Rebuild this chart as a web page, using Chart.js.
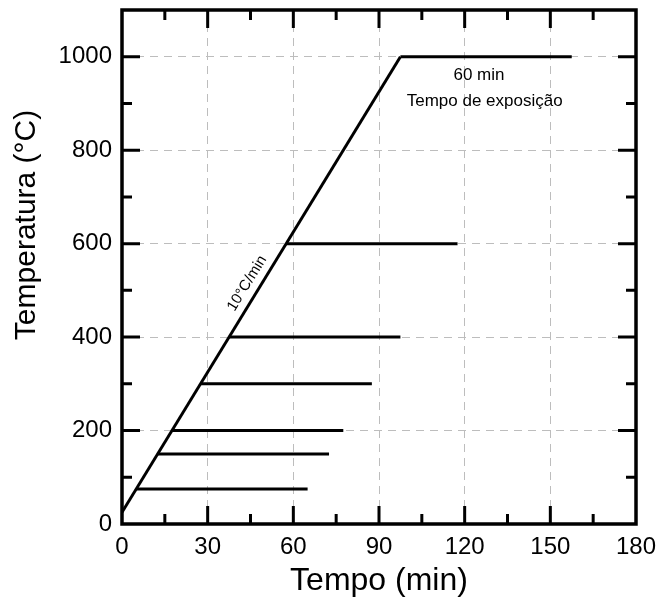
<!DOCTYPE html>
<html>
<head>
<meta charset="utf-8">
<script src="https://cdn.jsdelivr.net/npm/chart.js@4/dist/chart.umd.min.js"></script>
<style>
  html, body { margin: 0; padding: 0; background: #fff; }
  #wrap { width: 660px; height: 602px; }
</style>
</head>
<body>
<div id="wrap"><canvas id="grafico"></canvas></div>
<script>
// rampa de aquecimento 10°C/min
const rampaTempo = [0, 97.5]
const rampaTemp = [25, 1000]

// patamares (temperatura, inicio, fim)
const patamares = [75, 150, 200, 300, 400, 600, 1000]
const inicio = [5, 12.5, 17.5, 27.5, 37.5, 57.5, 97.5]
const fim = [65, 72.5, 77.5, 87.5, 97.5, 117.5, 157.5]

const xTicks = [0, 30, 60, 90, 120, 150, 180]
const yTicks = [0, 200, 400, 600, 800, 1000]

const fonte = '"Liberation Sans", Arial, sans-serif'

const datasets = [{
  data: rampaTempo.map((t, i) => ({ x: t, y: rampaTemp[i] })),
  borderColor: '#000',
  borderWidth: 3,
  pointRadius: 0,
  showLine: true
}]
patamares.forEach((temp, i) => {
  datasets.push({
    data: [{ x: inicio[i], y: temp }, { x: fim[i], y: temp }],
    borderColor: '#000',
    borderWidth: 3,
    pointRadius: 0,
    showLine: true
  })
})

// ticks para dentro + moldura + textos
const moldura = {
  id: 'moldura',
  afterDatasetsDraw(chart) {
    const { ctx, chartArea: a, scales: { x, y } } = chart
    ctx.save()
    ctx.strokeStyle = '#000'
    ctx.lineWidth = 3
    ctx.lineCap = 'butt'
    for (let v = 15; v < 180; v += 15) {
      const px = x.getPixelForValue(v)
      const len = v % 30 === 0 ? 18 : 10
      ctx.beginPath()
      ctx.moveTo(px, a.bottom); ctx.lineTo(px, a.bottom - len)
      ctx.moveTo(px, a.top); ctx.lineTo(px, a.top + len)
      ctx.stroke()
    }
    for (let v = 100; v < 1100; v += 100) {
      const py = y.getPixelForValue(v)
      const len = v % 200 === 0 ? 18 : 10
      ctx.beginPath()
      ctx.moveTo(a.left, py); ctx.lineTo(a.left + len, py)
      ctx.moveTo(a.right, py); ctx.lineTo(a.right - len, py)
      ctx.stroke()
    }
    ctx.lineWidth = 3.5
    ctx.strokeRect(a.left, a.top, a.right - a.left, a.bottom - a.top)

    ctx.fillStyle = '#000'
    ctx.textAlign = 'center'
    ctx.textBaseline = 'middle'
    ctx.font = '17px ' + fonte
    ctx.fillText('60 min', x.getPixelForValue(125), y.getPixelForValue(960))
    ctx.fillText('Tempo de exposição', x.getPixelForValue(127), y.getPixelForValue(905))

    // titulo do eixo y (deslocado para cima como no original)
    ctx.save()
    ctx.translate(27, y.getPixelForValue(640))
    ctx.rotate(-Math.PI / 2)
    ctx.font = '30px ' + fonte
    ctx.fillText('Temperatura (°C)', 0, 0)
    ctx.restore()

    // rotulo da rampa
    const p1x = x.getPixelForValue(0), p1y = y.getPixelForValue(25)
    const p2x = x.getPixelForValue(97.5), p2y = y.getPixelForValue(1000)
    const ang = Math.atan2(p2y - p1y, p2x - p1x)
    ctx.translate(x.getPixelForValue(43.8), y.getPixelForValue(515))
    ctx.rotate(ang)
    ctx.font = '15px ' + fonte
    ctx.fillText('10°C/min', 0, 0)
    ctx.restore()
  }
}

new Chart(document.getElementById('grafico'), {
  type: 'scatter',
  data: { datasets },
  options: {
    responsive: true,
    maintainAspectRatio: false,
    animation: false,
    layout: { padding: { left: 0, right: 24, top: 10, bottom: 0 } },
    plugins: { legend: { display: false }, tooltip: { enabled: false } },
    scales: {
      x: {
        type: 'linear',
        min: 0,
        max: 180,
        afterFit: (s) => { s.height = 78; s.paddingLeft = 0; s.paddingRight = 0 },
        afterBuildTicks: (s) => { s.ticks = xTicks.map(v => ({ value: v })) },
        ticks: { color: '#000', font: { family: fonte, size: 24 }, padding: 9, maxRotation: 0, callback: (v) => String(v) },
        grid: {
          drawTicks: false,
          color: (c) => (c.tick && (c.tick.value === 0 || c.tick.value === 180)) ? 'rgba(0,0,0,0)' : '#bdbdbd',
          lineWidth: 1
        },
        border: { display: false, dash: [8, 6] },
        title: { display: true, text: 'Tempo (min)', color: '#000', font: { family: fonte, size: 32 }, padding: { top: 0, bottom: 2 } }
      },
      y: {
        type: 'linear',
        min: 0,
        max: 1100,
        afterFit: (s) => { s.width = 122; s.paddingTop = 0; s.paddingBottom = 0 },
        afterBuildTicks: (s) => { s.ticks = yTicks.map(v => ({ value: v })) },
        ticks: { color: '#000', font: { family: fonte, size: 24 }, padding: 10, callback: (v) => String(v) },
        grid: {
          drawTicks: false,
          color: (c) => (c.tick && c.tick.value === 0) ? 'rgba(0,0,0,0)' : '#bdbdbd',
          lineWidth: 1
        },
        border: { display: false, dash: [8, 6] },
        title: { display: false }
      }
    }
  },
  plugins: [moldura]
})
</script>
</body>
</html>
